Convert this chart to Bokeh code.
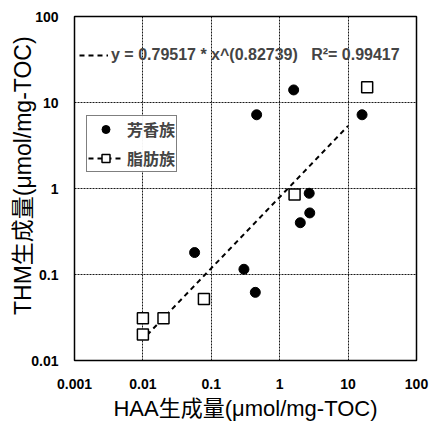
from bokeh.plotting import figure
from bokeh.models import FixedTicker, Legend, LegendItem, Range1d
from bokeh.embed import file_html
from bokeh.resources import INLINE

# ---- data ----
arom_x = [1.6, 0.46, 16, 2.7, 2.75, 2.0, 0.30, 0.44, 0.057]
arom_y = [14, 7.2, 7.2, 0.88, 0.52, 0.40, 0.115, 0.062, 0.18]
aliph_x = [19, 1.65, 0.078, 0.01, 0.01, 0.02]
aliph_y = [15, 0.85, 0.052, 0.031, 0.020, 0.031]
fit_a = 0.79517
fit_b = 0.82739
fit_r2 = 0.99417
fit_x = [0.0115, 10.0]
fit_y = [fit_a * v ** fit_b for v in fit_x]

x_ticks = [0.001, 0.01, 0.1, 1, 10, 100]
x_tick_labels = ["0.001", "0.01", "0.1", "1", "10", "100"]
y_ticks = [0.01, 0.1, 1, 10, 100]
y_tick_labels = ["0.01", "0.1", "1", "10", "100"]

series_names = ["芳香族", "脂肪族"]
x_title = "HAA生成量(μmol/mg-TOC)"
y_title = "THM生成量(μmol/mg-TOC)"
eq_text = f"y = {fit_a} * x^({fit_b})   R²= {fit_r2}"

FONT = "Liberation Sans, Noto Sans CJK JP"

p = figure(width=437, height=423, x_axis_type="log", y_axis_type="log",
           x_range=Range1d(0.001, 100), y_range=Range1d(0.01, 100),
           output_backend="svg", toolbar_location=None,
           min_border_left=74, min_border_right=21, min_border_top=16,
           min_border_bottom=61)

p.background_fill_color = "white"
p.border_fill_color = "white"
p.outline_line_color = "black"
p.outline_line_width = 1.5

p.xaxis.ticker = FixedTicker(ticks=x_ticks, minor_ticks=[])
p.yaxis.ticker = FixedTicker(ticks=y_ticks, minor_ticks=[])
p.xaxis.major_label_overrides = dict(zip(x_ticks, x_tick_labels))
p.yaxis.major_label_overrides = dict(zip(y_ticks, y_tick_labels))

for ax in (p.xaxis, p.yaxis):
    ax.axis_line_color = None
    ax.major_tick_line_color = None
    ax.minor_tick_line_color = None
    ax.major_label_text_font = "Liberation Sans"
    ax.major_label_text_font_style = "bold"
    ax.major_label_text_font_size = "14px"
    ax.major_label_text_color = "black"
    ax.axis_label_text_font = FONT
    ax.axis_label_text_font_style = "normal"
    ax.axis_label_text_color = "black"

p.xaxis.axis_label_text_font_size = "22px"
p.yaxis.axis_label_text_font_size = "23px"
p.xaxis.major_label_standoff = 12
p.yaxis.major_label_standoff = 10
p.xaxis.axis_label_standoff = 4
p.yaxis.axis_label_standoff = -8
p.xaxis.axis_label = x_title
p.yaxis.axis_label = "\u00a0" * 4 + y_title

for g in (p.xgrid, p.ygrid):
    g.grid_line_color = "black"
    g.grid_line_dash = "2 1"
    g.grid_line_width = 1
    g.grid_line_alpha = 0.9

fit_r = p.line(fit_x, fit_y, line_color="black", line_width=2, line_dash="5 4")
arom_r = p.scatter(arom_x, arom_y, marker="circle", size=10,
                   fill_color="black", line_color="black")
aliph_r = p.scatter(aliph_x, aliph_y, marker="square", size=11,
                    fill_color="white", line_color="black", line_width=1.5)

leg = Legend(items=[LegendItem(label=series_names[0], renderers=[arom_r]),
                    LegendItem(label=series_names[1], renderers=[fit_r, aliph_r])],
             location=(12, 188))
leg.label_text_font = "Noto Sans CJK JP"
leg.label_text_font_style = "bold"
leg.label_text_font_size = "16px"
leg.border_line_color = "black"
leg.border_line_width = 1.5
leg.background_fill_color = "white"
leg.glyph_width = 35
leg.glyph_height = 20
leg.label_height = 20
leg.label_standoff = 4
leg.padding = 1
leg.spacing = 5
leg.margin = 0
p.add_layout(leg)

eq = Legend(items=[LegendItem(label=eq_text, renderers=[fit_r])],
            location=(5, 295))
eq.label_text_font = "Liberation Sans"
eq.label_text_font_style = "bold"
eq.label_text_font_size = "16px"
eq.border_line_color = None
eq.background_fill_alpha = 0
eq.glyph_width = 29
eq.label_standoff = 3
eq.padding = 0
eq.margin = 0
p.add_layout(eq)

open("out.html", "w").write(file_html(p, INLINE))
